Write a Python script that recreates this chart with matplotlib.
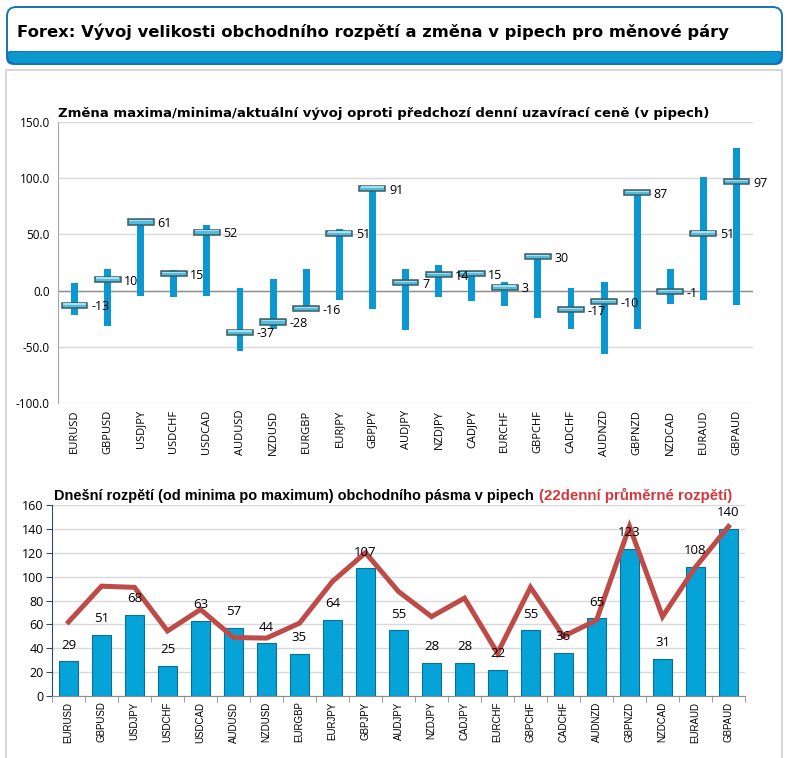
import matplotlib
matplotlib.use("Agg")
import matplotlib.pyplot as plt
from matplotlib.patches import FancyBboxPatch, Rectangle
import numpy as np

pairs = ["EURUSD", "GBPUSD", "USDJPY", "USDCHF", "USDCAD", "AUDUSD", "NZDUSD",
         "EURGBP", "EURJPY", "GBPJPY", "AUDJPY", "NZDJPY", "CADJPY", "EURCHF",
         "GBPCHF", "CADCHF", "AUDNZD", "GBPNZD", "NZDCAD", "EURAUD", "GBPAUD"]
change_high = [6.5, 19, 61, 18, 58, 2.5, 10, 19, 55, 91, 19, 23, 17, 8, 30, 2, 8, 87, 19, 101, 127]
change_low = [-22, -31.5, -5, -5.5, -5, -53.5, -34.5, -18, -8, -16, -35, -6, -9.5, -14, -24, -34.5, -56.5, -34.5, -12, -8, -13]
change_close = [-13, 10, 61, 15, 52, -37, -28, -16, 51, 91, 7, 14, 15, 3, 30, -17, -10, 87, -1, 51, 97]

range_today = [29, 51, 68, 25, 63, 57, 44, 35, 64, 107, 55, 28, 28, 22, 55, 36, 65, 123, 31, 108, 140]
range_avg22 = [62, 92, 91, 54.5, 72.5, 49, 48.5, 61, 96, 120, 87.5, 66.5, 82, 36, 91, 50, 63.5, 142, 66.5, 108, 142]

W, H = 788, 758
fig = plt.figure(figsize=(W / 100, H / 100), dpi=100)
fig.patch.set_facecolor("white")

def fx(px):
    return px / W

def fy(py):
    return 1 - py / H

def fit_width(t, target_px):
    fig.canvas.draw()
    w = t.get_window_extent().width
    t.set_fontsize(t.get_fontsize() * target_px / w)

# Outer panel
fig.patches.append(Rectangle((fx(6), fy(760)), fx(776), (760 - 70) / H,
                             transform=fig.transFigure, facecolor="none",
                             edgecolor="#cfcfcf", linewidth=1.2, zorder=-5))
# Header box
band = FancyBboxPatch((fx(7), fy(64)), fx(775), (64 - 51) / H,
                      boxstyle="round,pad=0,rounding_size=0.008",
                      transform=fig.transFigure, facecolor="#0a98cf",
                      edgecolor="#1672b8", linewidth=1.2, zorder=1)
fig.patches.append(band)
head = FancyBboxPatch((fx(7), fy(64)), fx(775), (64 - 7) / H,
                      boxstyle="round,pad=0,rounding_size=0.012",
                      transform=fig.transFigure, facecolor="none",
                      edgecolor="#1672b8", linewidth=1.4, zorder=2)
fig.patches.append(head)
fig.patches.append(Rectangle((fx(8), fy(51)), fx(773), (51 - 9) / H,
                             transform=fig.transFigure, facecolor="white",
                             edgecolor="none", zorder=1.5))
th = fig.text(fx(17), fy(32), "Forex: Vývoj velikosti obchodního rozpětí a změna v pipech pro měnové páry",
              fontsize=12, fontweight="bold", family="DejaVu Sans", color="black",
              va="center", ha="left", zorder=3)
fit_width(th, 711)

x = np.arange(len(pairs))
lab_font = "Open Sans"

# ---------------- Top chart ----------------
ax1 = fig.add_axes([fx(58), fy(403), fx(753 - 58), (403 - 122) / H])
ax1.set_xlim(-0.5, len(pairs) - 0.5)
ax1.set_ylim(-100, 150)
ax1.set_yticks([-100, -50, 0, 50, 100, 150])
ax1.set_yticklabels([f"{v:.1f}" for v in [-100, -50, 0, 50, 100, 150]],
                    fontsize=8.5, family=lab_font)
ax1.grid(axis="y", color="#d9d9d9", linewidth=1)
ax1.set_axisbelow(True)
ax1.axhline(0, color="#8c8c8c", linewidth=1, zorder=1)
for s in ["top", "right", "bottom"]:
    ax1.spines[s].set_visible(False)
ax1.spines["left"].set_color("#a6a6a6")
ax1.tick_params(axis="y", length=0, pad=6)
ax1.tick_params(axis="x", length=0, pad=5)
hi = np.array(change_high)
lo = np.array(change_low)
cl = np.array(change_close)
ax1.bar(x, hi - lo, bottom=lo, width=0.21, color="#0b97cf", zorder=2)
ax1.bar(x, 4.6, bottom=cl - 2.3, width=0.78, color="#52bde3",
        edgecolor="#3d5c5c", linewidth=1.1, zorder=3)
ax1.bar(x, 1.2, bottom=cl + 0.6, width=0.7, color="#a8e0f3",
        edgecolor="none", zorder=3.5)
for xi, c in zip(x, cl):
    ax1.text(xi + 0.5, c - 1.5, f"{c:d}", fontsize=9, family=lab_font,
             va="center", ha="left", zorder=4)
ax1.set_xticks(x)
ax1.set_xticklabels(pairs, rotation=90, fontsize=8, family=lab_font)
tt = fig.text(fx(58), fy(117), "Změna maxima/minima/aktuální vývoj oproti předchozí denní uzavírací ceně (v pipech)",
              fontsize=10, fontweight="bold", family="DejaVu Sans",
              ha="left", va="baseline")
fit_width(tt, 652)

# ---------------- Bottom chart ----------------
ax2 = fig.add_axes([fx(52), fy(696), fx(745 - 52), (696 - 505) / H])
ax2.set_xlim(-0.5, len(pairs) - 0.5)
ax2.set_ylim(0, 160)
ax2.set_yticks(np.arange(0, 161, 20))
ax2.set_yticklabels([str(v) for v in range(0, 161, 20)], fontsize=9, family=lab_font)
ax2.grid(axis="y", color="#d9d9d9", linewidth=1)
ax2.set_axisbelow(True)
for s in ["top", "right"]:
    ax2.spines[s].set_visible(False)
ax2.spines["left"].set_color("#2e4a6b")
ax2.spines["bottom"].set_color("#8c8c8c")
ax2.tick_params(axis="y", length=4, color="#2e4a6b", pad=2)
ax2.bar(x, range_today, width=0.6, color="#06a3d9", edgecolor="#0a6f96",
        linewidth=0.8, zorder=2)
ax2.plot(x, range_avg22, color="#be4b48", linewidth=3.6, zorder=3,
         solid_joinstyle="miter")
for xi, v in zip(x, range_today):
    ax2.annotate(str(v), (xi, v), xytext=(0, 7), textcoords="offset points",
                 ha="center", va="bottom", fontsize=9.5, family=lab_font, zorder=4)
ax2.set_xticks(x)
ax2.set_xticklabels(pairs, rotation=90, fontsize=7, family="Liberation Sans")
ax2.tick_params(axis="x", length=0, pad=4)
ax2.set_xticks(np.arange(-0.5, len(pairs), 1), minor=True)
ax2.tick_params(axis="x", which="minor", length=4, color="#8c8c8c")
t1 = fig.text(fx(54), fy(500), "Dnešní rozpětí (od minima po maximum) obchodního pásma v pipech",
              fontsize=10, fontweight="bold", family="Liberation Sans",
              ha="left", va="baseline")
fit_width(t1, 481)
t2 = fig.text(fx(539), fy(500), "(22denní průměrné rozpětí)",
              fontsize=10, fontweight="bold", family="Liberation Sans", color="#d2383c",
              ha="left", va="baseline")
fit_width(t2, 194)

fig.savefig("out.png", dpi=100, facecolor="white")
